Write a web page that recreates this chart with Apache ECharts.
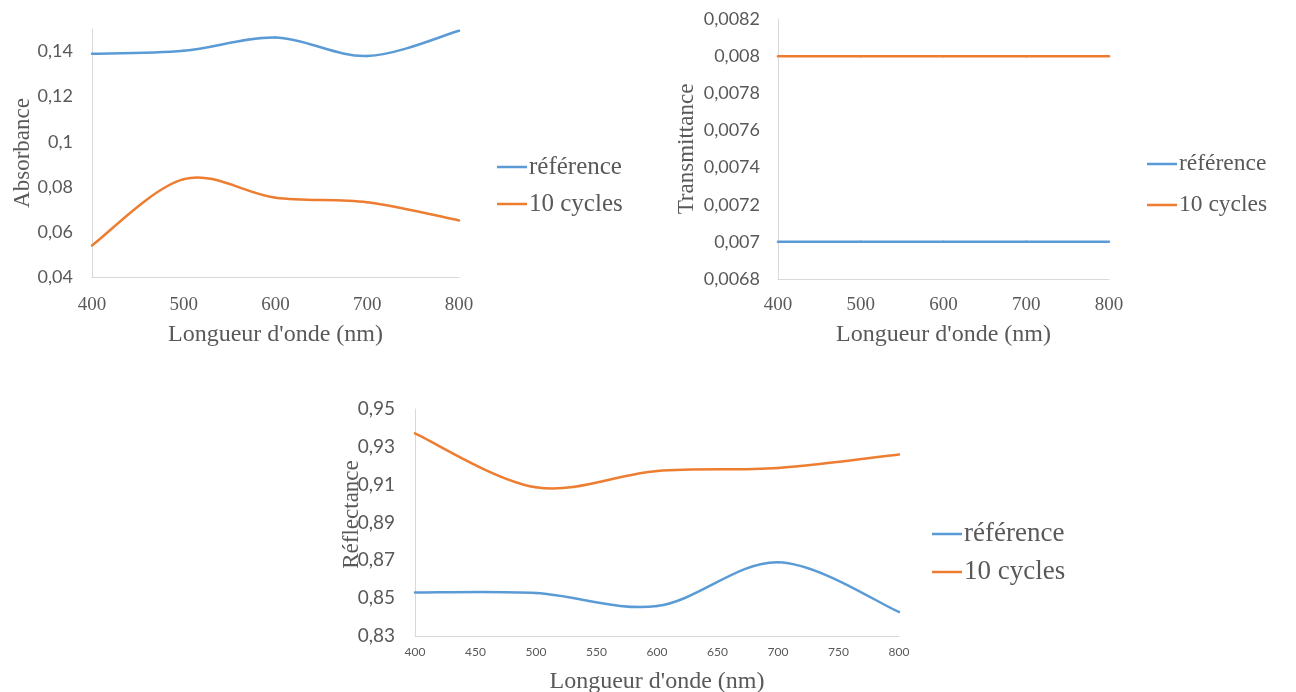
<!DOCTYPE html>
<html>
<head>
<meta charset="utf-8">
<script src="https://cdn.jsdelivr.net/npm/echarts@6/dist/echarts.min.js"></script>
<style>
  html, body { margin: 0; padding: 0; background: #ffffff; }
  #chart { width: 1296px; height: 692px; }
</style>
</head>
<body>
<div id="chart"></div>
<script>
// Wavelengths (nm) shared by all three panels
const wavelengths = [400, 500, 600, 700, 800];

// Absorbance
const absRef = [0.139, 0.1403, 0.1462, 0.138, 0.1492];
const abs10 = [0.054, 0.0834, 0.0752, 0.0732, 0.0651];
const absTicks = [0.04, 0.06, 0.08, 0.1, 0.12, 0.14];

// Transmittance
const transRef = [0.007, 0.007, 0.007, 0.007, 0.007];
const trans10 = [0.008, 0.008, 0.008, 0.008, 0.008];
const transTicks = [0.0068, 0.007, 0.0072, 0.0074, 0.0076, 0.0078, 0.008, 0.0082];

// Reflectance
const reflRef = [0.853, 0.8527, 0.8458, 0.869, 0.8427];
const refl10 = [0.9371, 0.9086, 0.9172, 0.9188, 0.926];
const reflTicks = [0.83, 0.85, 0.87, 0.89, 0.91, 0.93, 0.95];

const xTicks100 = [400, 500, 600, 700, 800];
const xTicks50 = [400, 450, 500, 550, 600, 650, 700, 750, 800];

const seriesNames = ['référence', '10 cycles'];
const BLUE = '#5B9BD5';
const ORANGE = '#ED7D31';
const GREY = '#595959';
const AXIS = '#D9D9D9';
const SERIF = '"Liberation Serif", "Times New Roman", serif';
const SANS = 'Lato, "Open Sans", sans-serif';

const pairs = arr => wavelengths.map((w, i) => [w, arr[i]]);
const decimalComma = v => String(+v.toFixed(6)).replace('.', ',');

function xAxisCfg(idx, ticks, labelFont, labelSize, labelMargin, nameGap) {
  return {
    type: 'value', gridIndex: idx, min: 400, max: 800,
    name: "Longueur d'onde (nm)", nameLocation: 'middle', nameGap: nameGap,
    nameMoveOverlap: false,
    nameTextStyle: { fontFamily: SERIF, fontSize: 24, color: GREY },
    axisLine: { show: true, lineStyle: { color: AXIS, width: 1 } },
    axisTick: { show: false },
    splitLine: { show: false },
    axisLabel: { customValues: ticks, fontFamily: labelFont, fontSize: labelSize, color: GREY, margin: labelMargin }
  };
}

function yAxisCfg(idx, name, min, max, ticks, labelSize, margin, nameGap, namePad) {
  return {
    type: 'value', gridIndex: idx, min: min, max: max,
    name: name, nameLocation: 'middle', nameGap: nameGap, nameRotate: 90,
    nameMoveOverlap: false,
    nameTextStyle: { fontFamily: SERIF, fontSize: 23, color: GREY, padding: namePad || 0 },
    axisLine: { show: true, lineStyle: { color: AXIS, width: 1 } },
    axisTick: { show: false },
    splitLine: { show: false },
    axisLabel: { customValues: ticks, formatter: decimalComma, fontFamily: SANS, fontSize: labelSize, color: GREY, margin: margin }
  };
}

// Smoothed curve: each data item draws the cubic segment to the next point,
// with Catmull-Rom style control points taken from its neighbours.
function splineSeries(name, values, color, idx) {
  const pts = pairs(values);
  return {
    type: 'custom', name: name, coordinateSystem: 'cartesian2d',
    xAxisIndex: idx, yAxisIndex: idx,
    data: pts,
    itemStyle: { color: color },
    encode: { x: 0, y: 1 },
    renderItem: function (params, api) {
      const i = params.dataIndex;
      const n = pts.length;
      if (i >= n - 1) return null;
      const c = k => api.coord(pts[Math.max(0, Math.min(n - 1, k))]);
      const p0 = c(i - 1), p1 = c(i), p2 = c(i + 1), p3 = c(i + 2);
      return {
        type: 'bezierCurve',
        shape: {
          x1: p1[0], y1: p1[1], x2: p2[0], y2: p2[1],
          cpx1: p1[0] + (p2[0] - p0[0]) / 6, cpy1: p1[1] + (p2[1] - p0[1]) / 6,
          cpx2: p2[0] - (p3[0] - p1[0]) / 6, cpy2: p2[1] - (p3[1] - p1[1]) / 6
        },
        style: { stroke: color, lineWidth: 2.5, fill: null, lineCap: 'round' }
      };
    }
  };
}

function legendCfg(left, top, fontSize, lineH, gap) {
  return {
    orient: 'vertical', left: left, top: top, data: seriesNames, padding: 0,
    icon: 'rect', itemWidth: 30, itemHeight: 2.5, itemGap: gap,
    selectedMode: false,
    textStyle: { fontFamily: SERIF, fontSize: fontSize, color: GREY, lineHeight: lineH, padding: [0, 0, 0, -3] }
  };
}

const chart = echarts.init(document.getElementById('chart'), null, { renderer: 'canvas' });
chart.setOption({
  animation: false,
  backgroundColor: '#ffffff',
  grid: [
    { left: 92, top: 29, width: 367, height: 248, outerBoundsMode: 'none' },
    { left: 778, top: 19, width: 331, height: 260, outerBoundsMode: 'none' },
    { left: 415, top: 409, width: 484, height: 227, outerBoundsMode: 'none' }
  ],
  xAxis: [
    xAxisCfg(0, xTicks100, SERIF, 19, 19, 46),
    xAxisCfg(1, xTicks100, SERIF, 19, 17, 44),
    xAxisCfg(2, xTicks50, SANS, 12, 10, 34)
  ],
  yAxis: [
    yAxisCfg(0, 'Absorbance', 0.04, 0.15, absTicks, 18, 19, 58),
    yAxisCfg(1, 'Transmittance', 0.0068, 0.0082, transTicks, 18, 18, 80),
    yAxisCfg(2, 'Réflectance', 0.83, 0.95, reflTicks, 19, 20, 52, [0, 0, 0, 16])
  ],
  legend: [
    legendCfg(497, 154, 25, 26, 11),
    legendCfg(1147, 151, 23.5, 26, 15),
    legendCfg(932, 520, 27, 28, 10)
  ],
  series: [
    splineSeries(seriesNames[0], absRef, BLUE, 0),
    splineSeries(seriesNames[1], abs10, ORANGE, 0),
    splineSeries(seriesNames[0], transRef, BLUE, 1),
    splineSeries(seriesNames[1], trans10, ORANGE, 1),
    splineSeries(seriesNames[0], reflRef, BLUE, 2),
    splineSeries(seriesNames[1], refl10, ORANGE, 2)
  ]
});
</script>
</body>
</html>
